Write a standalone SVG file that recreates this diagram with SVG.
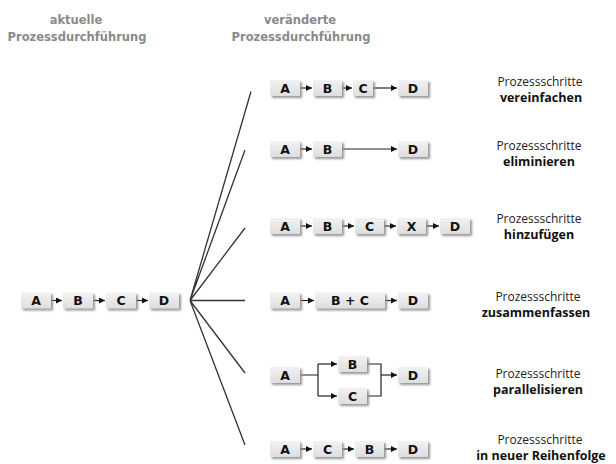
<svg xmlns="http://www.w3.org/2000/svg" width="616" height="464" viewBox="0 0 616 464">
<style>
.box{fill:url(#bg);filter:url(#sh)}
.bl{font-family:"DejaVu Sans",Verdana,sans-serif;font-weight:bold;font-size:12.5px;fill:#111;text-anchor:middle}
.hd{font-family:"DejaVu Sans",Verdana,sans-serif;font-weight:bold;font-size:11.5px;fill:#8a8a8a;text-anchor:middle}
.lr{font-family:"Open Sans","Noto Sans",sans-serif;font-size:12px;fill:#222;text-anchor:middle}
.lb{font-family:"Open Sans","Noto Sans",sans-serif;font-weight:bold;font-size:12.5px;fill:#111;text-anchor:middle}
.ar{stroke:#222;stroke-width:1.2;fill:none;marker-end:url(#ah)}
.ln{stroke:#222;stroke-width:1.2;fill:none}
.fan{stroke:#333;stroke-width:1.3;fill:none}
</style>
<defs>
<linearGradient id="bg" x1="0" y1="0" x2="0" y2="1">
<stop offset="0" stop-color="#f2f2f2"/>
<stop offset="1" stop-color="#dedede"/>
</linearGradient>
<filter id="sh" x="-20%" y="-30%" width="150%" height="180%">
<feDropShadow dx="2" dy="2" stdDeviation="0.9" flood-color="#8c8c8c" flood-opacity="0.9"/>
</filter>
<marker id="ah" viewBox="0 0 6 6" refX="6" refY="3" markerWidth="6" markerHeight="6" markerUnits="userSpaceOnUse" orient="auto">
<path d="M0,0 L6,3 L0,6 z" fill="#111"/>
</marker>
</defs>

<g id="headers">
<text class="hd" x="76" y="24">aktuelle</text>
<text class="hd" x="77" y="41">Prozessdurchführung</text>
<text class="hd" x="300" y="24">veränderte</text>
<text class="hd" x="301" y="41">Prozessdurchführung</text>
</g>

<g id="connectors">
<path class="fan" d="M190,300.5 L251,91.5 M190,300.5 L245,150 M190,300.5 L245,228 M190,300.5 L245,300.5 M190,300.5 L245,373 M190,300.5 L245,445"/>
<path class="ar" d="M51,300.5 H62"/>
<path class="ar" d="M93,300.5 H105"/>
<path class="ar" d="M136,300.5 H148"/>
<path class="ar" d="M300,88 H312"/>
<path class="ar" d="M342,88 H352"/>
<path class="ar" d="M373,88 H397"/>
<path class="ar" d="M300,149 H312"/>
<path class="ar" d="M342,149 H397"/>
<path class="ar" d="M300,226 H312"/>
<path class="ar" d="M342,226 H354"/>
<path class="ar" d="M384,226 H396"/>
<path class="ar" d="M426,226 H439"/>
<path class="ar" d="M300,300.5 H314"/>
<path class="ar" d="M385,300.5 H397"/>
<path class="ln" d="M300,375 H318 M318,364 V396"/>
<path class="ar" d="M318,364 H337"/>
<path class="ar" d="M318,396 H337"/>
<path class="ln" d="M367,364 H381 V396 H367"/>
<path class="ar" d="M381,375 H397"/>
<path class="ar" d="M300,449 H312"/>
<path class="ar" d="M342,449 H354"/>
<path class="ar" d="M384,449 H397"/>
</g>

<g id="cur-A"><rect class="box" x="21" y="292.5" width="30" height="16"/><text class="bl" x="36" y="305">A</text></g>
<g id="cur-B"><rect class="box" x="63" y="292.5" width="30" height="16"/><text class="bl" x="78" y="305">B</text></g>
<g id="cur-C"><rect class="box" x="106" y="292.5" width="30" height="16"/><text class="bl" x="121" y="305">C</text></g>
<g id="cur-D"><rect class="box" x="149" y="292.5" width="30" height="16"/><text class="bl" x="164" y="305">D</text></g>

<g id="r1-A"><rect class="box" x="270" y="80" width="30" height="16"/><text class="bl" x="285" y="92.5">A</text></g>
<g id="r1-B"><rect class="box" x="313" y="80" width="29" height="16"/><text class="bl" x="327.5" y="92.5">B</text></g>
<g id="r1-C"><rect class="box" x="353" y="80" width="20" height="16"/><text class="bl" x="363" y="92.5">C</text></g>
<g id="r1-D"><rect class="box" x="398" y="80" width="30" height="16"/><text class="bl" x="413" y="92.5">D</text></g>

<g id="r2-A"><rect class="box" x="270" y="141" width="30" height="16"/><text class="bl" x="285" y="153.5">A</text></g>
<g id="r2-B"><rect class="box" x="313" y="141" width="29" height="16"/><text class="bl" x="327.5" y="153.5">B</text></g>
<g id="r2-D"><rect class="box" x="398" y="141" width="30" height="16"/><text class="bl" x="413" y="153.5">D</text></g>

<g id="r3-A"><rect class="box" x="270" y="218" width="30" height="16"/><text class="bl" x="285" y="230.5">A</text></g>
<g id="r3-B"><rect class="box" x="313" y="218" width="29" height="16"/><text class="bl" x="327.5" y="230.5">B</text></g>
<g id="r3-C"><rect class="box" x="355" y="218" width="29" height="16"/><text class="bl" x="369.5" y="230.5">C</text></g>
<g id="r3-X"><rect class="box" x="397" y="218" width="29" height="16"/><text class="bl" x="411.5" y="230.5">X</text></g>
<g id="r3-D"><rect class="box" x="440" y="218" width="30" height="16"/><text class="bl" x="455" y="230.5">D</text></g>

<g id="r4-A"><rect class="box" x="270" y="292.5" width="30" height="16"/><text class="bl" x="285" y="305">A</text></g>
<g id="r4-BC"><rect class="box" x="315" y="292.5" width="70" height="16"/><text class="bl" x="350" y="305">B + C</text></g>
<g id="r4-D"><rect class="box" x="398" y="292.5" width="30" height="16"/><text class="bl" x="413" y="305">D</text></g>

<g id="r5-A"><rect class="box" x="270" y="367" width="30" height="16"/><text class="bl" x="285" y="379.5">A</text></g>
<g id="r5-B"><rect class="box" x="338" y="356" width="29" height="16"/><text class="bl" x="352.5" y="368.5">B</text></g>
<g id="r5-C"><rect class="box" x="338" y="388" width="29" height="16"/><text class="bl" x="352.5" y="400.5">C</text></g>
<g id="r5-D"><rect class="box" x="398" y="367" width="30" height="16"/><text class="bl" x="413" y="379.5">D</text></g>

<g id="r6-A"><rect class="box" x="270" y="441" width="30" height="16"/><text class="bl" x="285" y="453.5">A</text></g>
<g id="r6-C"><rect class="box" x="313" y="441" width="29" height="16"/><text class="bl" x="327.5" y="453.5">C</text></g>
<g id="r6-B"><rect class="box" x="355" y="441" width="29" height="16"/><text class="bl" x="369.5" y="453.5">B</text></g>
<g id="r6-D"><rect class="box" x="398" y="441" width="30" height="16"/><text class="bl" x="413" y="453.5">D</text></g>

<g id="labels">
<text class="lr" x="540" y="86">Prozessschritte</text>
<text class="lb" x="541" y="102">vereinfachen</text>
<text class="lr" x="539" y="150">Prozessschritte</text>
<text class="lb" x="539" y="166">eliminieren</text>
<text class="lr" x="539" y="223">Prozessschritte</text>
<text class="lb" x="539" y="239">hinzufügen</text>
<text class="lr" x="538" y="301">Prozessschritte</text>
<text class="lb" x="536" y="317">zusammenfassen</text>
<text class="lr" x="538" y="378">Prozessschritte</text>
<text class="lb" x="538" y="394">parallelisieren</text>
<text class="lr" x="540" y="444">Prozessschritte</text>
<text class="lb" x="541" y="460">in neuer Reihenfolge</text>
</g>
</svg>
